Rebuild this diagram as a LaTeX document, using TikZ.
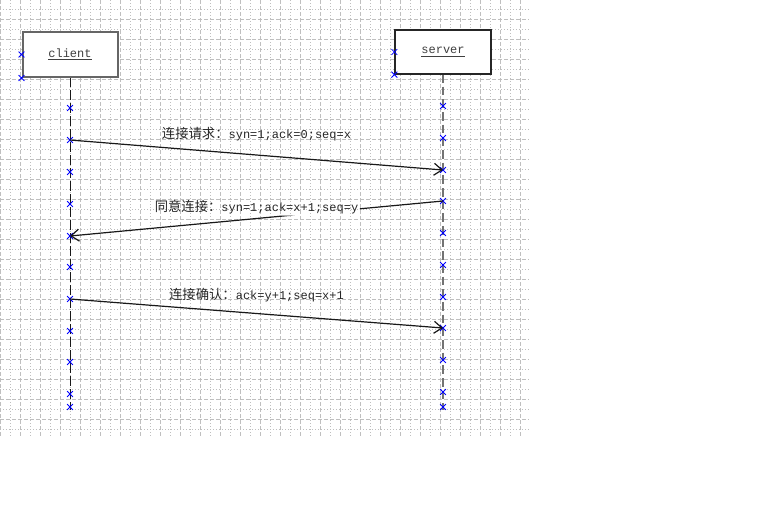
\documentclass[tikz,border=0pt]{standalone}
\usepackage{fontspec}
\setmainfont{Liberation Mono}[Scale=0.9]
\newfontfamily\cjk{Noto Sans CJK SC}
\usepackage{tikz}
\usetikzlibrary{arrows.meta, shapes.misc}

\begin{document}
\begin{tikzpicture}[
  x=0.75pt, y=-0.75pt,
  obj/.style={rectangle, draw, fill=white, minimum width=71.25pt, minimum height=33.75pt, text=black!75},
  xmk/.style={cross out, draw=blue, minimum size=3.75pt, inner sep=0pt, line width=0.6pt},
  msg/.style={draw=black!90, line width=0.9pt, -{Straight Barb[length=6pt, width=9pt]}},
  lab/.style={text=black!85, inner sep=1pt},
  dotln/.style={draw=black!25, line width=0.75pt, dash pattern=on 0.75pt off 1.5pt},
  dashln/.style={draw=black!25, line width=0.75pt, dash pattern=on 3pt off 1.5pt}
]
\useasboundingbox (0,0) rectangle (778,519);
\fill[white] (0,0) rectangle (778,519);
% grid
\foreach \x in {0,20,...,520} \draw[dashln] (\x,0) -- (\x,436);
\foreach \x in {10,30,...,510} \draw[dotln] (\x,0) -- (\x,436);
\foreach \y in {19.5,39.5,...,419.5} \draw[dashln] (0,\y) -- (529,\y);
\foreach \y in {9.5,29.5,...,429.5} \draw[dotln] (0,\y) -- (529,\y);
% objects and lifelines
\coordinate (cend) at (70,410);
\coordinate (send) at (443,410);
\draw[black!90, line width=0.65pt, dash pattern=on 7.5pt off 2.25pt] (70,77) -- (cend);
\draw[black!55, line width=1.9pt, dash pattern=on 6.5pt off 3pt] (443,74) -- (send);
\node[obj, draw=black!60, line width=1.5pt] (client) at (70,54.5) {\underline{client}};
\node[obj, draw=black!85, line width=0.9pt, minimum width=72pt, minimum height=33pt] (server) at (443,52) {\underline{server}};
\foreach \y [count=\i] in {108,140,172,204,236,267,299,331,362,394,407}
  \node[xmk] (c\i) at (70,\y) {};
\foreach \y [count=\i] in {106,138,170,201,233,265,297,328,360,392,407}
  \node[xmk] (s\i) at (443,\y) {};
\node[xmk] (cw) at (client.west) {};
\node[xmk] (csw) at (client.south west) {};
\node[xmk] (sw) at (server.west) {};
\node[xmk] (ssw) at (server.south west) {};
% messages
\draw[msg] (c2.center) -- node[lab, yshift=15.75pt] (req) {{\cjk 连接请求：}syn=1;ack=0;seq=x} (s3.center);
\path (s4.center) -- node[lab, yshift=8.6pt] (agree) {{\cjk 同意连接：}syn=1;ack=x+1;seq=y} (c5.center);
\begin{scope}[even odd rule]
  \clip (0,0) rectangle (778,519) (agree.south west) rectangle (agree.north east);
  \draw[msg] (s4.center) -- (c5.center);
\end{scope}
\draw[msg] (c7.center) -- node[lab, yshift=13.9pt] (confirm) {{\cjk 连接确认：}ack=y+1;seq=x+1} (s8.center);
\end{tikzpicture}
\end{document}
